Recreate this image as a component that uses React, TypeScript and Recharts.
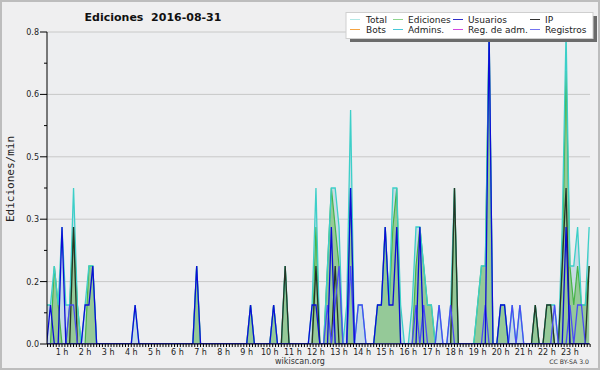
import React from 'react';
import { ComposedChart, Area, Line, XAxis, YAxis, CartesianGrid } from 'recharts';

// one point every 10 minutes, [slot, edits/min], slot = index of the 10-min interval
const totalPts: [number, number][] = [
  [2, 0.1], [3, 0.1], [4, 0.2], [5, 0.1], [6, 0.3], [7, 0.1], [8, 0.1], [9, 0.4], [10, 0.1],
  [12, 0.1], [13, 0.2], [14, 0.2], [25, 0.1], [41, 0.2], [55, 0.1], [61, 0.1], [64, 0.2],
  [71, 0.1], [72, 0.4], [75, 0.2], [76, 0.4], [77, 0.4], [78, 0.3], [80, 0.1], [81, 0.6],
  [83, 0.1], [84, 0.1], [88, 0.1], [89, 0.1], [90, 0.3], [91, 0.1], [92, 0.4], [93, 0.4],
  [94, 0.1], [97, 0.1], [98, 0.3], [99, 0.3], [100, 0.2], [101, 0.1], [102, 0.1], [104, 0.1],
  [107, 0.1], [108, 0.4], [114, 0.1], [115, 0.2], [116, 0.2], [117, 0.8], [120, 0.1],
  [121, 0.1], [123, 0.1], [125, 0.1], [129, 0.1], [132, 0.1], [133, 0.1], [134, 0.1],
  [136, 0.3], [137, 0.8], [138, 0.2], [139, 0.2], [140, 0.3], [141, 0.1], [142, 0.1], [143, 0.3],
];
const edicionesPts: [number, number][] = [
  [4, 0.2], [5, 0.1], [8, 0.1], [9, 0.3], [10, 0.1], [13, 0.2], [14, 0.2], [41, 0.2],
  [55, 0.1], [61, 0.1], [64, 0.2], [72, 0.3], [75, 0.2], [76, 0.4], [77, 0.3], [78, 0.2],
  [81, 0.4], [88, 0.1], [89, 0.1], [90, 0.3], [91, 0.1], [92, 0.3], [93, 0.4], [98, 0.2],
  [99, 0.3], [100, 0.2], [101, 0.1], [102, 0.1], [108, 0.4], [114, 0.1], [115, 0.2],
  [116, 0.2], [117, 0.8], [120, 0.1], [121, 0.1], [129, 0.1], [132, 0.1], [133, 0.1],
  [136, 0.2], [137, 0.7], [138, 0.2], [139, 0.1], [140, 0.2], [141, 0.1], [142, 0.1], [143, 0.2],
];
const usuariosPts: [number, number][] = [
  [3, 0.1], [6, 0.3], [12, 0.1], [13, 0.1], [14, 0.2], [25, 0.1], [41, 0.2], [55, 0.1],
  [61, 0.1], [71, 0.1], [72, 0.1], [76, 0.3], [81, 0.4], [88, 0.1], [89, 0.1], [90, 0.3],
  [91, 0.1], [92, 0.1], [93, 0.3], [99, 0.3], [117, 0.8], [120, 0.1], [121, 0.1], [137, 0.3],
];
const ipPts: [number, number][] = [
  [9, 0.3], [64, 0.2], [72, 0.2], [77, 0.2], [108, 0.4], [129, 0.1], [132, 0.1], [133, 0.1],
  [136, 0.2], [137, 0.4], [143, 0.2],
];
const registrosPts: [number, number][] = [
  [8, 0.1], [9, 0.1], [75, 0.1], [77, 0.1], [78, 0.2], [81, 0.2], [83, 0.1], [84, 0.1],
  [98, 0.1], [100, 0.1], [104, 0.1], [107, 0.1], [116, 0.1], [123, 0.1], [125, 0.1],
  [134, 0.1], [138, 0.1], [140, 0.1], [141, 0.1],
];

const yTicks = [0, 0.08, 0.16, 0.24, 0.32, 0.4, 0.48, 0.56, 0.64, 0.72, 0.8];
const gridValues = [0.16, 0.32, 0.48, 0.64, 0.8];

const legendItems = [
  { name: 'Total', color: '#b2e8e6' },
  { name: 'Ediciones', color: '#8fd68f' },
  { name: 'Usuarios', color: '#3030c8' },
  { name: 'IP', color: '#333333' },
  { name: 'Bots', color: '#f5a442' },
  { name: 'Admins.', color: '#48c8d8' },
  { name: 'Reg. de adm.', color: '#d048e0' },
  { name: 'Registros', color: '#7474f0' },
];

const valueAt = (pts: [number, number][], s: number) => {
  const p = pts.find((q) => q[0] === s);
  return p ? p[1] : 0;
};

const slots = Array.from({ length: 142 }, (_, i) => i + 2);
const data = slots.map((s) => ({
  h: s / 6,
  total: valueAt(totalPts, s),
  ediciones: valueAt(edicionesPts, s),
  usuarios: valueAt(usuariosPts, s),
  ip: valueAt(ipPts, s),
  registros: valueAt(registrosPts, s),
}));

// minor ticks every 7.5 minutes, labels on whole hours
const xTicks = Array.from({ length: 189 }, (_, i) => 0.375 + i * 0.125);

const XTick = (props: any) => {
  const { x, y, payload } = props;
  const v = payload.value;
  const whole = Math.abs(v - Math.round(v)) < 1e-6;
  return (
    <g>
      <line x1={x} x2={x} y1={y} y2={y + 3} stroke="#000" />
      {whole && (
        <text x={x} y={y + 11} textAnchor="middle" fontSize={8} fontFamily="DejaVu Sans" fill="#222">
          {Math.round(v)} h
        </text>
      )}
    </g>
  );
};

const YTick = (props: any) => {
  const { x, y, payload } = props;
  const major = Math.round(payload.value / 0.08) % 2 === 0;
  return (
    <g>
      <line x1={x - (major ? 7 : 3)} x2={x} y1={y} y2={y} stroke="#000" />
      {major && (
        <text x={x - 8} y={y + 3} textAnchor="end" fontSize={8} fontFamily="DejaVu Sans" fill="#222">
          {payload.value.toFixed(1)}
        </text>
      )}
    </g>
  );
};

export default function App() {
  return (
    <div style={{ position: 'absolute', left: 0, top: 0, width: 600, height: 370, background: '#efeff0' }}>
      <ComposedChart width={600} height={370} data={data} margin={{ top: 32, right: 10, bottom: 0, left: 0 }}>
        <CartesianGrid vertical={false} horizontalValues={gridValues} stroke="#c8c8c8" fill="#edeef0" />
        <XAxis
          dataKey="h"
          type="number"
          domain={[0.35, 23.87]}
          allowDataOverflow
          ticks={xTicks}
          interval={0}
          tick={<XTick />}
          tickLine={false}
          tickSize={0}
          tickMargin={0}
          height={26}
          axisLine={{ stroke: '#000' }}
        />
        <YAxis
          type="number"
          domain={[0, 0.8]}
          allowDataOverflow
          ticks={yTicks}
          interval={0}
          tick={<YTick />}
          tickLine={false}
          tickSize={0}
          tickMargin={0}
          width={47}
          axisLine={{ stroke: '#000' }}
        />
        <Area type="linear" dataKey="total" stroke="none" fill="#c6dbe6" fillOpacity={1} isAnimationActive={false} dot={false} activeDot={false} />
        <Area type="linear" dataKey="ediciones" stroke="#46b446" strokeWidth={1.2} fill="#8fc78f" fillOpacity={0.9} isAnimationActive={false} dot={false} activeDot={false} />
        <Line type="linear" dataKey="total" stroke="#3ccfc8" strokeWidth={1.3} isAnimationActive={false} dot={false} activeDot={false} />
        <Line type="linear" dataKey="ip" stroke="#253525" strokeWidth={1.3} isAnimationActive={false} dot={false} activeDot={false} />
        <Line type="linear" dataKey="registros" stroke="#4a4af5" strokeWidth={1.3} isAnimationActive={false} dot={false} activeDot={false} />
        <Line type="linear" dataKey="usuarios" stroke="#0c0cd6" strokeWidth={1.3} isAnimationActive={false} dot={false} activeDot={false} />
      </ComposedChart>
      <svg width={600} height={370} style={{ position: 'absolute', left: 0, top: 0, pointerEvents: 'none' }}>
        <rect x={1} y={1} width={598} height={368} fill="none" stroke="#bdbdbd" strokeWidth={2} />
        <text x={153} y={21} textAnchor="middle" fontFamily="DejaVu Sans" fontWeight="bold" fontSize={11} fill="#111" style={{ whiteSpace: 'pre' }}>
          {'Ediciones  2016-08-31'}
        </text>
        <text transform="rotate(-90)" x={-179} y={14} textAnchor="middle" fontFamily="DejaVu Sans Mono" fontSize={11} fill="#222">
          Ediciones/min
        </text>
        <text x={300} y={364} textAnchor="middle" fontFamily="DejaVu Sans" fontSize={8} fill="#333">wikiscan.org</text>
        <text x={589} y={364} textAnchor="end" fontFamily="DejaVu Sans" fontSize={6.2} fill="#333">CC BY-SA 3.0</text>
        <rect x={350} y={16} width={247} height={26} fill="#6b6b6b" />
        <rect x={346} y={12.5} width={247} height={26} fill="#ffffff" stroke="#cfcfcf" />
        {legendItems.map((it, i) => {
          const col = i % 4;
          const row = Math.floor(i / 4);
          const lx = [350, 393, 453, 530][col];
          const tx = [366, 408, 468, 545][col];
          const ly = row === 0 ? 19.5 : 29.5;
          return (
            <g key={it.name}>
              <line x1={lx} x2={lx + 10} y1={ly} y2={ly} stroke={it.color} strokeWidth={1} />
              <text x={tx} y={ly + 3.3} fontFamily="DejaVu Sans" fontSize={9} fill="#222">{it.name}</text>
            </g>
          );
        })}
      </svg>
    </div>
  );
}
